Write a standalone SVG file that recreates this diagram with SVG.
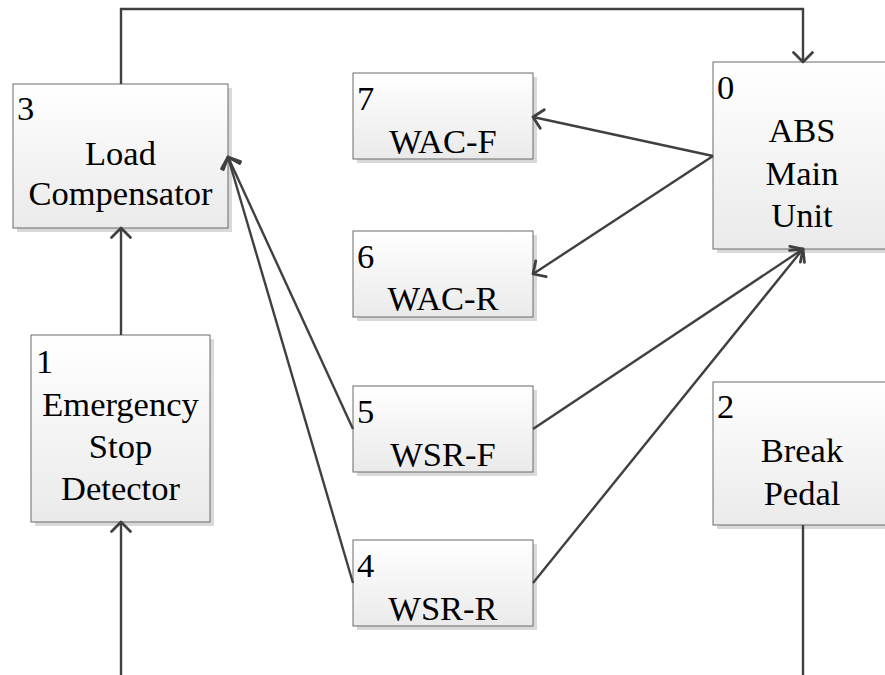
<svg xmlns="http://www.w3.org/2000/svg" width="885" height="675" viewBox="0 0 885 675">
  <style>
    .box { fill: url(#boxFill); stroke: #6a6a6a; stroke-width: 1; }
    .shadow { fill: #d9d9d9; }
    .lbl { font-size: 34.5px; fill: #000; }
    .mid { text-anchor: middle; }
    .wire { fill: none; stroke: #404040; stroke-width: 2.4; }
    .arrow { marker-end: url(#openArrow); }
  </style>
  <defs>
    <linearGradient id="boxFill" x1="0" y1="0" x2="0" y2="1">
      <stop offset="0" stop-color="#ffffff"/>
      <stop offset="1" stop-color="#eaeaea"/>
    </linearGradient>
    <marker id="openArrow" markerUnits="userSpaceOnUse" markerWidth="26" markerHeight="26" viewBox="-13 -13 26 26" refX="0" refY="0" orient="auto">
      <path d="M-9.5,-9.5 L0,0 L-9.5,9.5" fill="none" stroke="#404040" stroke-width="2.8" stroke-linecap="round" stroke-linejoin="round"/>
    </marker>
  </defs>

  <!-- boxes; all labels share one serif stack set on this group -->
  <g font-family="Liberation Serif, DejaVu Serif, serif">
  <g id="n3">
    <rect class="shadow" x="17" y="88" width="215" height="144"/>
    <rect class="box" x="13" y="84" width="215" height="144"/>
    <text class="lbl" x="17" y="120">3</text>
    <text class="lbl mid" x="120.5" y="165">Load</text>
    <text class="lbl mid" x="120.5" y="205">Compensator</text>
  </g>
  <g id="n1">
    <rect class="shadow" x="35" y="339" width="179" height="187"/>
    <rect class="box" x="31" y="335" width="179" height="187"/>
    <text class="lbl" x="36" y="373">1</text>
    <text class="lbl mid" x="120.5" y="416">Emergency</text>
    <text class="lbl mid" x="120.5" y="458">Stop</text>
    <text class="lbl mid" x="120.5" y="500">Detector</text>
  </g>
  <g id="n7">
    <rect class="shadow" x="357" y="77" width="180" height="86"/>
    <rect class="box" x="353" y="73" width="180" height="86"/>
    <text class="lbl" x="357" y="110">7</text>
    <text class="lbl mid" x="443" y="153">WAC-F</text>
  </g>
  <g id="n6">
    <rect class="shadow" x="357" y="235" width="180" height="86"/>
    <rect class="box" x="353" y="231" width="180" height="86"/>
    <text class="lbl" x="357" y="268">6</text>
    <text class="lbl mid" x="443" y="310">WAC-R</text>
  </g>
  <g id="n5">
    <rect class="shadow" x="357" y="390" width="180" height="86"/>
    <rect class="box" x="353" y="386" width="180" height="86"/>
    <text class="lbl" x="357" y="423">5</text>
    <text class="lbl mid" x="443" y="466">WSR-F</text>
  </g>
  <g id="n4">
    <rect class="shadow" x="357" y="544" width="180" height="86"/>
    <rect class="box" x="353" y="540" width="180" height="86"/>
    <text class="lbl" x="357" y="577">4</text>
    <text class="lbl mid" x="443" y="620">WSR-R</text>
  </g>
  <g id="n0">
    <rect class="shadow" x="717" y="66" width="180" height="187"/>
    <rect class="box" x="713" y="62" width="180" height="187"/>
    <text class="lbl" x="717" y="99">0</text>
    <text class="lbl mid" x="802" y="142">ABS</text>
    <text class="lbl mid" x="802" y="185">Main</text>
    <text class="lbl mid" x="802" y="227">Unit</text>
  </g>
  <g id="n2">
    <rect class="shadow" x="717" y="386" width="180" height="143"/>
    <rect class="box" x="713" y="382" width="180" height="143"/>
    <text class="lbl" x="717" y="418">2</text>
    <text class="lbl mid" x="802" y="462">Break</text>
    <text class="lbl mid" x="802" y="505">Pedal</text>
  </g>
  </g>

  <!-- connectors -->
  <g id="connectors">
    <polyline class="wire arrow" points="121,84 121,9 803,9 803,62"/>
    <line class="wire arrow" x1="121" y1="335" x2="121" y2="228"/>
    <line class="wire arrow" x1="121" y1="675" x2="121" y2="522"/>
    <line class="wire" x1="803" y1="525" x2="803" y2="675"/>
    <line class="wire arrow" x1="713" y1="156" x2="533" y2="117"/>
    <line class="wire arrow" x1="713" y1="156" x2="533" y2="274"/>
    <line class="wire arrow" x1="353" y1="429" x2="228" y2="157"/>
    <line class="wire arrow" x1="353" y1="583" x2="228" y2="157"/>
    <line class="wire arrow" x1="533" y1="429" x2="803" y2="249"/>
    <line class="wire arrow" x1="533" y1="583" x2="803" y2="249"/>
  </g>
</svg>
